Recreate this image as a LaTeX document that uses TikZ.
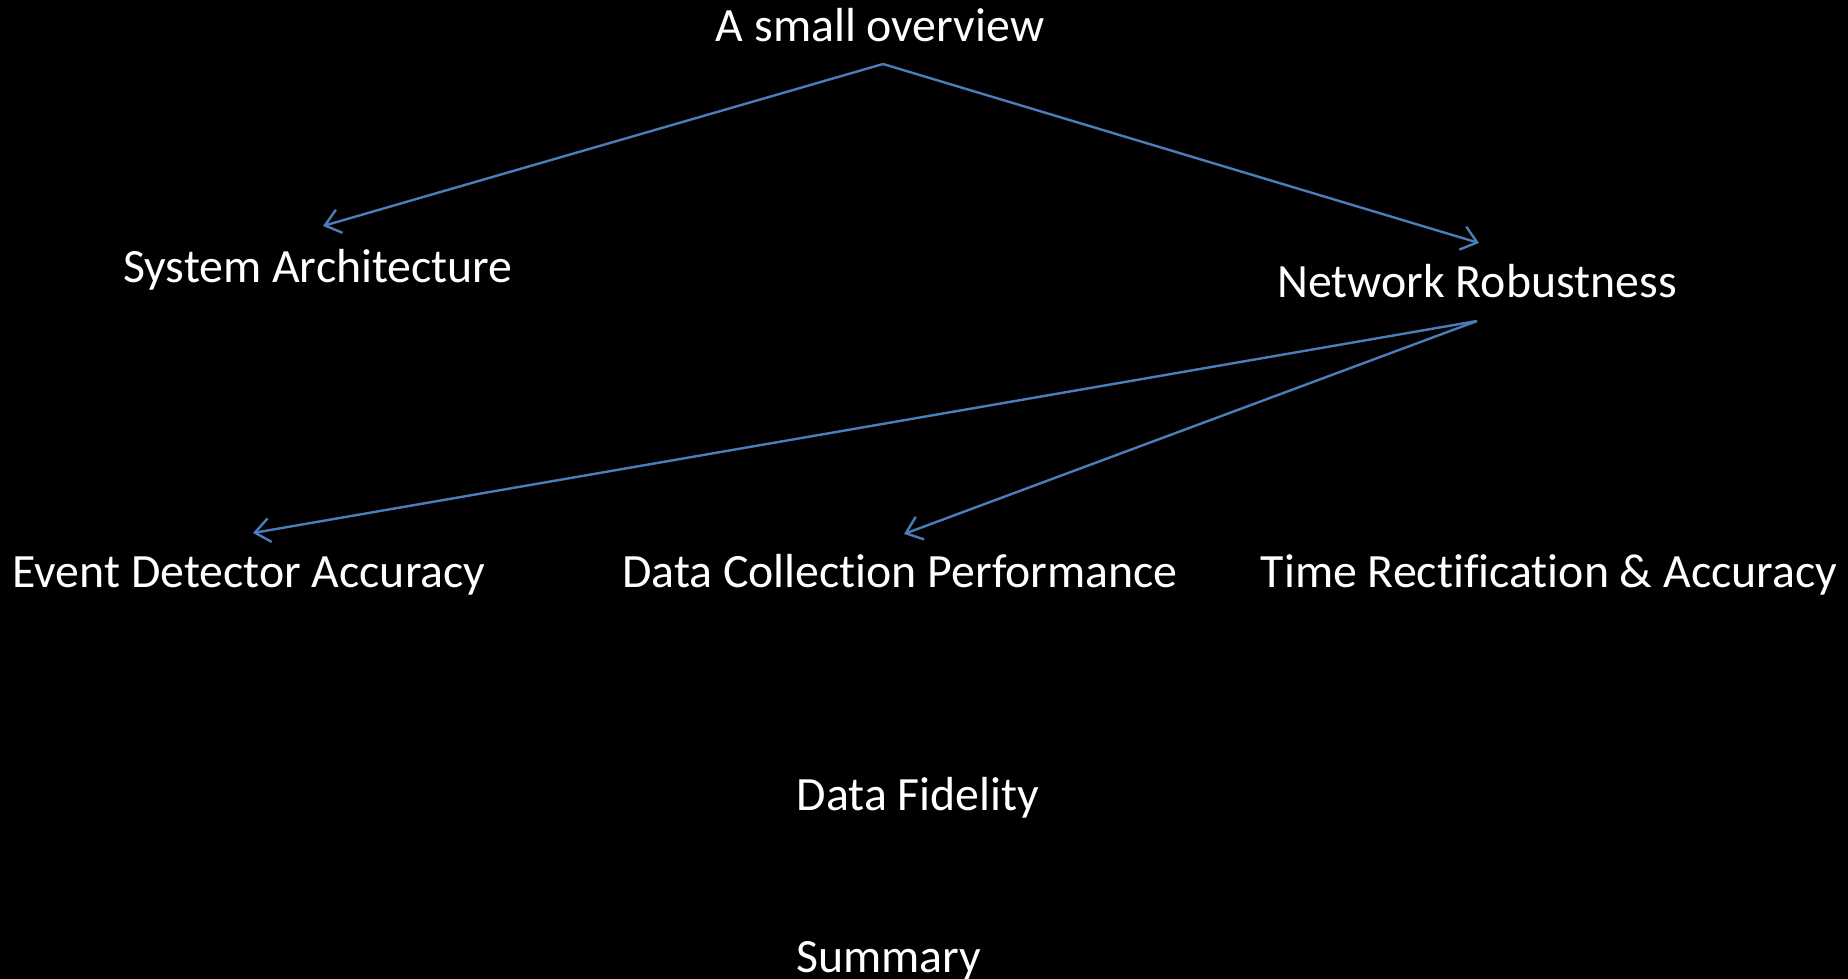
\documentclass[tikz,border=0pt]{standalone}
\usepackage{fontspec}
\setmainfont{Carlito}[Ligatures=NoCommon]
\usetikzlibrary{arrows.meta}
\definecolor{linkblue}{HTML}{4A7EBB}
\begin{document}
\begin{tikzpicture}[x=1pt,y=-1pt,
  lbl/.style={text=white,font=\fontsize{47.8}{52}\selectfont,anchor=base,inner sep=0pt},
  link/.style={draw=linkblue,line width=2.4pt,-{Straight Barb[length=15pt,width=24pt,line width=2.4pt]}}]
\fill[black] (0,0) rectangle (1848,979);
\useasboundingbox (0,0) rectangle (1848,979);
\node[lbl] (ov) at (880,42) {A small overview};
\node[lbl] (sa) at (318,282) {System Architecture};
\node[lbl] (nr) at (1477,297) {Network Robustness};
\node[lbl] (ed) at (249,587) {Event Detector Accuracy};
\node[lbl] (dc) at (900,587) {Data Collection Performance};
\node[lbl] (tr) at (1549,587) {Time Rectification \& Accuracy};
\node[lbl] (df) at (918,810) {Data Fidelity};
\node[lbl] (su) at (889,972) {Summary};
\coordinate (ovS) at (883,64);
\coordinate (saN) at (323,226);
\coordinate (nrN) at (1479,243);
\coordinate (nrS) at (1477,321);
\coordinate (edN) at (253,533);
\coordinate (dcN) at (904,534);
\draw[link] (ovS) -- (saN);
\draw[link] (ovS) -- (nrN);
\draw[link] (nrS) -- (edN);
\draw[link] (nrS) -- (dcN);
\end{tikzpicture}
\end{document}
